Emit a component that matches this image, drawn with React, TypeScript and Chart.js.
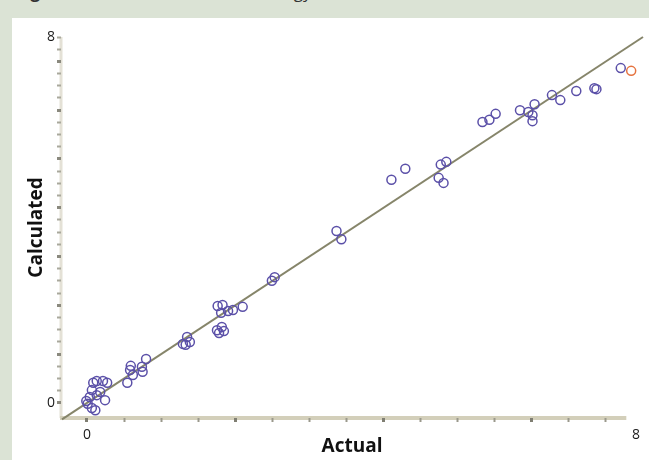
import React, { useEffect, useRef } from "react";
import { Chart, registerables } from "chart.js";

Chart.register(...registerables);

// ---- data ----
const actualValues = [
  0.09, 0.14, 0.23, 0.29, 0.07, 0.19, 0.04, 0.14, -0.01, 0.01, 0.07, 0.12, 0.26,
  0.63, 0.62, 0.66, 0.58, 0.8, 0.79, 0.85,
  1.44, 1.48, 1.38, 1.42,
  1.88, 1.95, 1.93, 2.03, 2.1, 2.24, 1.87, 1.94, 1.97, 1.9,
  2.66, 2.7,
  3.59, 3.66,
  4.38, 4.58,
  5.09, 5.17, 5.06, 5.13,
  5.69, 5.79, 5.88,
  6.23, 6.35, 6.44, 6.41, 6.41,
  6.69, 6.81, 7.04, 7.3, 7.33, 7.68,
];
const calculatedValues = [
  0.44, 0.48, 0.48, 0.44, 0.28, 0.24, 0.13, 0.17, 0.04, -0.02, -0.11, -0.16, 0.06,
  0.81, 0.72, 0.61, 0.44, 0.68, 0.79, 0.96,
  1.44, 1.33, 1.29, 1.27,
  2.12, 2.14, 1.97, 2.01, 2.03, 2.1, 1.59, 1.66, 1.57, 1.53,
  2.67, 2.75,
  3.76, 3.58,
  4.88, 5.12,
  5.21, 5.27, 4.92, 4.81,
  6.14, 6.19, 6.32,
  6.4, 6.36, 6.53, 6.16, 6.29,
  6.73, 6.62, 6.82, 6.88, 6.86, 7.32,
];
const outlierActual = [7.83];
const outlierCalculated = [7.26];
const identityLine = [-0.36, 8];

const xTickLabels = ["0", "8"];
const yTickLabels = ["0", "8"];

// ---- scale setup ----
const X_MIN = -0.374;
const X_MAX = 8;
const X_AXIS_END = 7.76;
const X_LABEL_END = 7.9;
const Y_MIN = -0.33;
const Y_MAX = 8;
const X_STEP = 8 / 15;
const X_TICK_COUNT = 15;
const Y_STEP = 8 / 30;
const Y_TICK_COUNT = 31;

const FONT = "'Open Sans', 'Noto Sans', sans-serif";

const axisLines = {
  id: "axisLines",
  beforeDraw(chart: any) {
    const { ctx, chartArea, scales } = chart;
    const x = scales.x;
    ctx.save();
    ctx.strokeStyle = "#e4e1d6";
    ctx.lineWidth = 3;
    ctx.beginPath();
    ctx.moveTo(chartArea.left, chartArea.top);
    ctx.lineTo(chartArea.left, chartArea.bottom);
    ctx.stroke();
    ctx.strokeStyle = "#d3cfba";
    ctx.lineWidth = 4;
    ctx.beginPath();
    ctx.moveTo(chartArea.left - 1, chartArea.bottom);
    ctx.lineTo(x.getPixelForValue(X_AXIS_END), chartArea.bottom);
    ctx.stroke();
    ctx.restore();
  },
};

export default function App() {
  const canvasRef = useRef<HTMLCanvasElement | null>(null);

  useEffect(() => {
    const canvas = canvasRef.current;
    if (!canvas) return;
    const points = actualValues.map((v, i) => ({ x: v, y: calculatedValues[i] }));
    const outliers = outlierActual.map((v, i) => ({ x: v, y: outlierCalculated[i] }));
    const line = identityLine.map((v) => ({ x: v, y: v }));

    const chart = new Chart(canvas, {
      type: "scatter",
      data: {
        datasets: [
          {
            data: points,
            pointRadius: 4.5,
            pointBorderWidth: 1.5,
            pointBorderColor: "#5b50a8",
            pointBackgroundColor: "rgba(0,0,0,0)",
            borderColor: "#5b50a8",
            backgroundColor: "rgba(0,0,0,0)",
          },
          {
            data: outliers,
            pointRadius: 4.5,
            pointBorderWidth: 1.5,
            pointBorderColor: "#e5733f",
            pointBackgroundColor: "rgba(0,0,0,0)",
            borderColor: "#e5733f",
            backgroundColor: "rgba(0,0,0,0)",
          },
          {
            data: line,
            showLine: true,
            borderColor: "#86856a",
            borderWidth: 2,
            pointRadius: 0,
            clip: false as any,
          } as any,
        ],
      },
      options: {
        animation: false,
        responsive: false,
        devicePixelRatio: 1,
        layout: { padding: { left: 0, right: 5, top: 37, bottom: 0 } },
        plugins: { legend: { display: false }, tooltip: { enabled: false } },
        scales: {
          x: {
            type: "linear",
            min: X_MIN,
            max: X_MAX,
            afterFit: (s: any) => {
              s.height = 42;
            },
            afterBuildTicks: (s: any) => {
              const t: any[] = [];
              for (let k = 0; k < X_TICK_COUNT; k++) t.push({ value: k * X_STEP });
              t.push({ value: X_LABEL_END });
              s.ticks = t;
            },
            ticks: {
              autoSkip: false,
              maxRotation: 0,
              padding: 5,
              color: "#1a1a1a",
              font: { family: FONT, size: 14 },
              callback: (_v: any, i: number, ticks: any[]) =>
                i === 0 ? xTickLabels[0] : i === ticks.length - 1 ? xTickLabels[1] : "",
            },
            grid: {
              drawOnChartArea: false,
              drawTicks: true,
              tickLength: 4,
              tickColor: (c: any) =>
                c.index === X_TICK_COUNT ? "rgba(0,0,0,0)" : c.index % 4 === 0 ? "#7f7e72" : "#9a998c",
              tickWidth: (c: any) => (c.index % 4 === 0 ? 3 : 2),
            } as any,
            border: { display: false },
            title: {
              display: true,
              text: "Actual",
              color: "#111",
              font: { family: FONT, size: 19, weight: "bold" },
              padding: { top: 0, bottom: 2 },
            },
          },
          y: {
            type: "linear",
            min: Y_MIN,
            max: Y_MAX,
            afterFit: (s: any) => {
              s.width = 61;
            },
            afterBuildTicks: (s: any) => {
              const t: any[] = [];
              for (let k = 0; k < Y_TICK_COUNT; k++) t.push({ value: k * Y_STEP });
              s.ticks = t;
            },
            ticks: {
              autoSkip: false,
              padding: 2,
              color: "#1a1a1a",
              font: { family: FONT, size: 14 },
              callback: (_v: any, i: number, ticks: any[]) =>
                i === 0 ? yTickLabels[0] : i === ticks.length - 1 ? yTickLabels[1] : "",
            },
            grid: {
              drawOnChartArea: false,
              drawTicks: true,
              tickLength: 4,
              tickColor: (c: any) => (c.index % 4 === 0 ? "#8a897e" : "#a9a89c"),
              tickWidth: (c: any) => (c.index % 4 === 0 ? 3 : 2),
            } as any,
            border: { display: false },
            title: {
              display: true,
              text: "Calculated",
              color: "#111",
              font: { family: FONT, size: 19, weight: "bold" },
              padding: { top: 25, bottom: 0 },
            },
          },
        },
      },
      plugins: [axisLines],
    } as any);
    return () => chart.destroy();
  }, []);

  return (
    <div
      style={{
        position: "fixed",
        left: 0,
        top: 0,
        width: 649,
        height: 460,
        background: "#dbe3d5",
        overflow: "hidden",
      }}
    >
      <div
        style={{
          position: "absolute",
          left: 0,
          top: 0,
          width: 649,
          height: 18,
          overflow: "hidden",
        }}
      >
        <div
          style={{
            position: "absolute",
            left: 16,
            top: -20,
            whiteSpace: "nowrap",
            fontFamily: FONT,
            fontSize: 17,
            color: "#333",
          }}
        >
          <b>Figure 2.</b> Calculated vs. actual energy
        </div>
      </div>
      <div
        style={{
          position: "absolute",
          left: 12,
          top: 18,
          width: 637,
          height: 442,
          background: "#ffffff",
        }}
      />
      <canvas
        ref={canvasRef}
        width={649}
        height={460}
        style={{ position: "absolute", left: 0, top: 0, width: 649, height: 460 }}
      />
    </div>
  );
}
